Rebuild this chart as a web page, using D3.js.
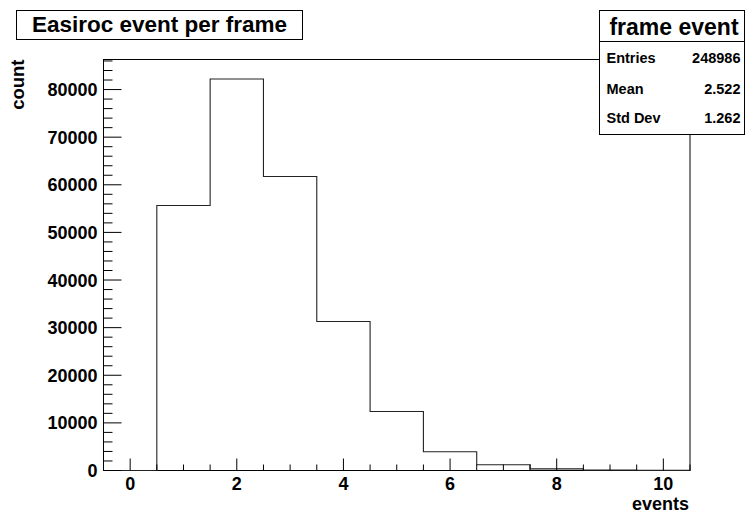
<!DOCTYPE html>
<html>
<head>
<meta charset="utf-8">
<script src="https://cdn.jsdelivr.net/npm/d3@7"></script>
<style>
  html, body { margin: 0; padding: 0; background: #fff; }
  svg text { font-family: "Liberation Sans", Arial, Helvetica, sans-serif; font-weight: bold; fill: #000; }
</style>
</head>
<body>
<svg id="chart" width="746" height="513"></svg>
<script>
// Histogram of events per frame: bin centres 0..10, unit-wide bins
const binCenters = [0, 1, 2, 3, 4, 5, 6, 7, 8, 9, 10];
const binCounts  = [0, 55650, 82200, 61740, 31300, 12400, 3950, 1200, 350, 80, 20];

// Statistics box contents
const statTitle  = "frame event";
const statLabels = ["Entries", "Mean", "Std Dev"];
const statValues = ["248986", "2.522", "1.262"];

const chartTitle = "Easiroc event per frame";
const xTitle = "events";
const yTitle = "count";
const xMajorTicks = [0, 2, 4, 6, 8, 10];
const yMajorTicks = [0, 10000, 20000, 30000, 40000, 50000, 60000, 70000, 80000];

const svg = d3.select("#chart");

const frame = { left: 103.5, right: 690, top: 59.5, bottom: 470.5 };
const yMax = d3.max(binCounts) * 1.05;

const x = d3.scaleLinear().domain([-0.5, 10.5]).range([frame.left, frame.right]);
const y = d3.scaleLinear().domain([0, yMax]).range([frame.bottom, frame.top]);

// Frame
svg.append("rect")
  .attr("x", frame.left).attr("y", frame.top)
  .attr("width", frame.right - frame.left).attr("height", frame.bottom - frame.top)
  .attr("fill", "none").attr("stroke", "#000").attr("stroke-width", 1);

// Histogram outline (step line)
const bins = binCenters.map((c, i) => ({ x0: c - 0.5, x1: c + 0.5, n: binCounts[i] }));
let d = `M${x(bins[0].x0)},${y(0)}`;
bins.forEach(b => {
  d += `L${x(b.x0)},${y(b.n)}L${x(b.x1)},${y(b.n)}`;
});
d += `L${x(bins[bins.length - 1].x1)},${y(0)}`;
svg.append("path").attr("d", d)
  .attr("fill", "none").attr("stroke", "#222").attr("stroke-width", 1.1);

// X axis ticks drawn inside the frame (upwards)
const xMinor = d3.range(-0.5, 10.51, 0.5);
const xAxisG = svg.append("g").attr("transform", `translate(0,${frame.bottom})`);
xAxisG.selectAll("line.minor").data(xMinor).join("line")
  .attr("x1", v => x(v)).attr("x2", v => x(v))
  .attr("y1", 0).attr("y2", v => (xMajorTicks.includes(v) ? -12 : -6))
  .attr("stroke", "#000").attr("stroke-width", 1);
xAxisG.selectAll("text").data(xMajorTicks).join("text")
  .attr("x", v => x(v)).attr("y", 19)
  .attr("text-anchor", "middle").style("font-size", "18px")
  .text(v => d3.format("d")(v));

// Y axis ticks drawn inside the frame (rightwards)
const yMinor = d3.range(0, yMax, 2000);
const yAxisG = svg.append("g").attr("transform", `translate(${frame.left},0)`);
yAxisG.selectAll("line").data(yMinor).join("line")
  .attr("x1", 0).attr("x2", v => (v % 10000 === 0 ? 18 : 9))
  .attr("y1", v => y(v)).attr("y2", v => y(v))
  .attr("stroke", "#000").attr("stroke-width", 1);
yAxisG.selectAll("text").data(yMajorTicks).join("text")
  .attr("x", -6).attr("y", v => y(v)).attr("dy", "0.36em")
  .attr("text-anchor", "end").style("font-size", "18px")
  .text(v => d3.format("d")(v));

// Axis titles
svg.append("text")
  .attr("x", frame.right - 1).attr("y", 510)
  .attr("text-anchor", "end").style("font-size", "18px")
  .text(xTitle);
svg.append("text")
  .attr("transform", `translate(24,${frame.top}) rotate(-90)`)
  .attr("text-anchor", "end").style("font-size", "18.5px")
  .text(yTitle);

// Title box
svg.append("rect")
  .attr("x", 16.5).attr("y", 10.5).attr("width", 286).attr("height", 29)
  .attr("fill", "#fff").attr("stroke", "#000").attr("stroke-width", 1);
svg.append("text")
  .attr("x", 159.5).attr("y", 32)
  .attr("text-anchor", "middle").style("font-size", "22.5px")
  .text(chartTitle);

// Statistics box
const sb = { x: 599.5, y: 10.5, w: 145, h: 124, head: 31 };
svg.append("rect")
  .attr("x", sb.x).attr("y", sb.y).attr("width", sb.w).attr("height", sb.h)
  .attr("fill", "#fff").attr("stroke", "#000").attr("stroke-width", 1);
svg.append("line")
  .attr("x1", sb.x).attr("x2", sb.x + sb.w)
  .attr("y1", sb.y + sb.head).attr("y2", sb.y + sb.head)
  .attr("stroke", "#000").attr("stroke-width", 1);
svg.append("text")
  .attr("x", sb.x + sb.w / 2 + 2).attr("y", 35)
  .attr("text-anchor", "middle").style("font-size", "23px")
  .text(statTitle);
const rowY = [63.3, 94.3, 122.7];
statLabels.forEach((lab, i) => {
  svg.append("text").attr("x", 606.5).attr("y", rowY[i])
    .style("font-size", "14.5px").text(lab);
  svg.append("text").attr("x", 740.5).attr("y", rowY[i])
    .attr("text-anchor", "end").style("font-size", "14.5px").text(statValues[i]);
});
</script>
</body>
</html>
